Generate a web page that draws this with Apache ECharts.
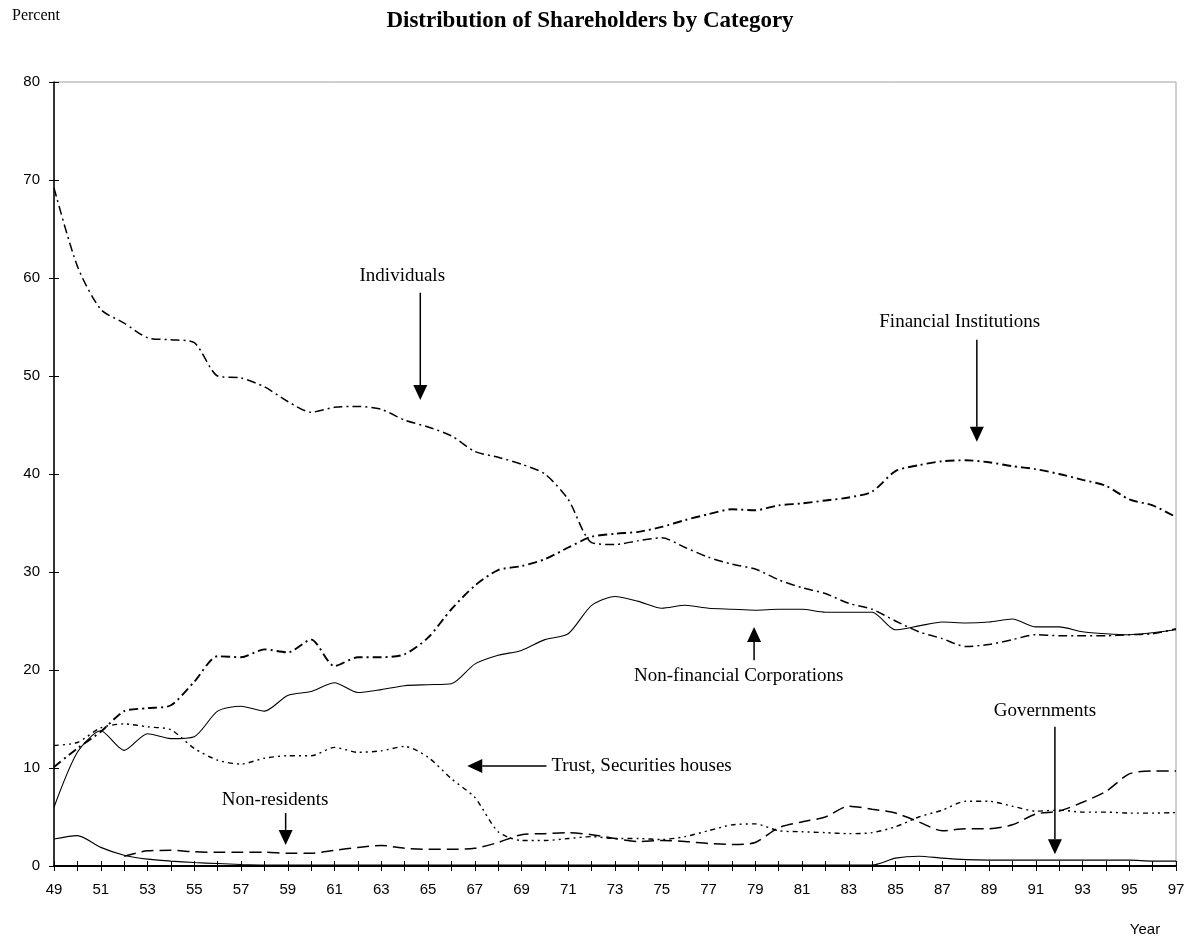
<!DOCTYPE html>
<html>
<head>
<meta charset="utf-8">
<script src="https://cdn.jsdelivr.net/npm/echarts@6/dist/echarts.min.js"></script>
<style>
html,body{margin:0;padding:0;background:#fff;}
#chart{width:1194px;height:943px;}
</style>
</head>
<body>
<div id="chart"></div>
<script>
const years = [49,50,51,52,53,54,55,56,57,58,59,60,61,62,63,64,65,66,67,68,69,70,71,72,73,74,75,76,77,78,79,80,81,82,83,84,85,86,87,88,89,90,91,92,93,94,95,96,97];

const individuals = [69.2,61.2,56.8,55.4,53.9,53.7,53.4,50.0,49.8,48.9,47.4,46.3,46.8,46.9,46.6,45.5,44.8,43.9,42.3,41.7,41.0,40.0,37.4,33.0,32.8,33.2,33.5,32.5,31.5,30.8,30.3,29.2,28.4,27.8,26.8,26.2,25.0,23.9,23.2,22.4,22.6,23.1,23.6,23.5,23.5,23.5,23.6,23.7,24.2];

const financialInstitutions = [10.1,12.0,13.7,15.8,16.1,16.4,18.8,21.4,21.3,22.1,21.8,23.1,20.4,21.3,21.3,21.6,23.3,26.2,28.6,30.2,30.6,31.3,32.5,33.6,33.9,34.1,34.6,35.3,35.9,36.4,36.3,36.8,37.0,37.3,37.6,38.2,40.3,40.9,41.3,41.4,41.2,40.8,40.5,40.0,39.4,38.8,37.4,36.8,35.6];

const nonFinancialCorps = [6.0,11.6,13.8,11.8,13.5,13.0,13.2,15.8,16.3,15.8,17.4,17.8,18.7,17.7,18.0,18.4,18.5,18.6,20.6,21.5,22.0,23.1,23.7,26.6,27.5,27.0,26.3,26.6,26.3,26.2,26.1,26.2,26.2,25.9,25.9,25.9,24.1,24.5,24.9,24.8,24.9,25.2,24.4,24.4,23.9,23.7,23.6,23.8,24.1];

const trustSecurities = [12.3,12.6,14.1,14.5,14.2,13.9,12.0,10.8,10.4,11.0,11.25,11.25,12.1,11.6,11.75,12.2,11.1,8.9,7.0,3.5,2.6,2.6,2.8,3.0,2.8,2.8,2.7,3.0,3.6,4.2,4.3,3.6,3.5,3.4,3.3,3.4,4.0,5.0,5.7,6.6,6.6,6.1,5.6,5.7,5.5,5.5,5.4,5.4,5.45];

const nonResidents = [null,null,null,1.0,1.55,1.6,1.45,1.4,1.4,1.4,1.3,1.3,1.6,1.9,2.1,1.8,1.7,1.7,1.8,2.4,3.2,3.3,3.4,3.2,2.8,2.5,2.6,2.5,2.3,2.2,2.4,3.9,4.5,5.0,6.1,5.8,5.4,4.5,3.6,3.8,3.8,4.2,5.3,5.6,6.5,7.6,9.4,9.7,9.7];

const governments = [2.75,3.1,1.9,1.1,0.7,0.5,0.35,0.25,0.15,0.1,0.1,0.1,0.1,0.1,0.1,0.1,0.1,0.1,0.1,0.1,0.1,0.1,0.1,0.1,0.1,0.1,0.1,0.1,0.1,0.1,0.1,0.1,0.1,0.1,0.1,0.1,0.8,1.0,0.8,0.65,0.6,0.6,0.6,0.6,0.6,0.6,0.6,0.5,0.5];

const yTicks = [0,10,20,30,40,50,60,70,80];

// Annotations: label position and arrow in data coordinates [year, percent]
const annotations = [
  {text:'Individuals', at:[63.9,60.2], from:[64.67,58.5], to:[64.67,47.55]},
  {text:'Financial Institutions', at:[87.75,55.5], from:[88.48,53.7], to:[88.48,43.3]},
  {text:'Non-financial Corporations', at:[78.29,19.4], from:[78.95,21.0], to:[78.95,24.4]},
  {text:'Trust, Securities houses', at:[70.28,10.2], from:[70.07,10.2], to:[66.68,10.2], left:true},
  {text:'Non-residents', at:[58.46,6.7], from:[58.91,5.4], to:[58.91,2.15]},
  {text:'Governments', at:[91.39,15.8], from:[91.82,14.2], to:[91.82,1.2]}
];

function pairs(arr){ return years.map((y,i)=>[y, arr[i]]); }

const chart = echarts.init(document.getElementById('chart'));
const serif = '"Liberation Serif","Times New Roman",serif';
const sans = '"Liberation Sans",Arial,sans-serif';

function lineSeries(name, arr, type, width){
  return {
    name, type:'line', data: pairs(arr), showSymbol:false, smooth:0.25,
    connectNulls:false, xAxisIndex:0, yAxisIndex:0,
    lineStyle:{color:'#000', width: width, type: type},
    emphasis:{disabled:true}, silent:true
  };
}

const option = {
  animation:false,
  backgroundColor:'#fff',
  grid:{left:54, right:18, top:82, bottom:77, show:true, borderColor:'#a0a0a0', borderWidth:1},
  xAxis:[{
    type:'value', min:49, max:97, interval:1,
    axisLine:{show:true, onZero:false, lineStyle:{color:'#000', width:2}},
    axisTick:{show:true, length:5, lineStyle:{color:'#000', width:1}},
    axisLabel:{color:'#000', fontFamily:sans, fontSize:15, margin:16, showMinLabel:true, showMaxLabel:true,
      formatter:function(v){ return (v % 2 === 1) ? String(v) : ''; }},
    splitLine:{show:false}
  },{
    type:'value', min:49, max:97, interval:1, position:'bottom',
    axisLine:{show:false, onZero:false},
    axisTick:{show:true, inside:true, length:5, lineStyle:{color:'#000', width:1}},
    axisLabel:{show:false}, splitLine:{show:false}
  }],
  yAxis:[{
    type:'value', min:0, max:80, interval:10,
    axisLine:{show:true, onZero:false, lineStyle:{color:'#000', width:1.5}},
    axisTick:{show:true, length:5, lineStyle:{color:'#000', width:1}},
    axisLabel:{color:'#000', fontFamily:sans, fontSize:15, margin:14},
    splitLine:{show:false}
  },{
    type:'value', min:0, max:80, interval:10, position:'left',
    axisLine:{show:false, onZero:false},
    axisTick:{show:true, inside:true, length:5, lineStyle:{color:'#000', width:1}},
    axisLabel:{show:false}, splitLine:{show:false}
  }],
  series:[
    lineSeries('Individuals', individuals, [9,4,2,4], 1.5),
    lineSeries('Financial Institutions', financialInstitutions, [9,4,2,4], 1.9),
    lineSeries('Non-financial Corporations', nonFinancialCorps, 'solid', 1.1),
    lineSeries('Trust, Securities houses', trustSecurities, [5,4,2,4,2,4], 1.4),
    lineSeries('Non-residents', nonResidents, [12,6], 1.5),
    lineSeries('Governments', governments, 'solid', 1.1)
  ]
};
chart.setOption(option);

const els = [
  {type:'text', left:12, top:8, style:{text:'Percent', font:'16px '+serif, fill:'#000'}},
  {type:'text', x:590, y:21, style:{text:'Distribution of Shareholders by Category', font:'bold 23px '+serif, fill:'#000', textAlign:'center', textVerticalAlign:'middle'}},
  {type:'text', x:1145, y:930, style:{text:'Year', font:'15px '+sans, fill:'#000', textAlign:'center', textVerticalAlign:'middle'}}
];

annotations.forEach(a=>{
  const p = chart.convertToPixel({gridIndex:0}, a.at);
  const f = chart.convertToPixel({gridIndex:0}, a.from);
  const t = chart.convertToPixel({gridIndex:0}, a.to);
  els.push({type:'text', x:p[0], y:p[1], style:{text:a.text, font:'19px '+serif, fill:'#000',
    textAlign: a.left ? 'left':'center', textVerticalAlign:'middle'}});
  const dx = t[0]-f[0], dy = t[1]-f[1];
  const len = Math.sqrt(dx*dx+dy*dy);
  const ux = dx/len, uy = dy/len;
  const hl = 15, hw = 7;
  const bx = t[0]-ux*hl, by = t[1]-uy*hl;
  els.push({type:'line', shape:{x1:f[0], y1:f[1], x2:bx, y2:by}, style:{stroke:'#000', lineWidth:1.5}});
  els.push({type:'polygon', shape:{points:[[t[0],t[1]],[bx-uy*hw, by+ux*hw],[bx+uy*hw, by-ux*hw]]}, style:{fill:'#000'}});
});
chart.setOption({graphic:{elements:els}});
</script>
</body>
</html>
